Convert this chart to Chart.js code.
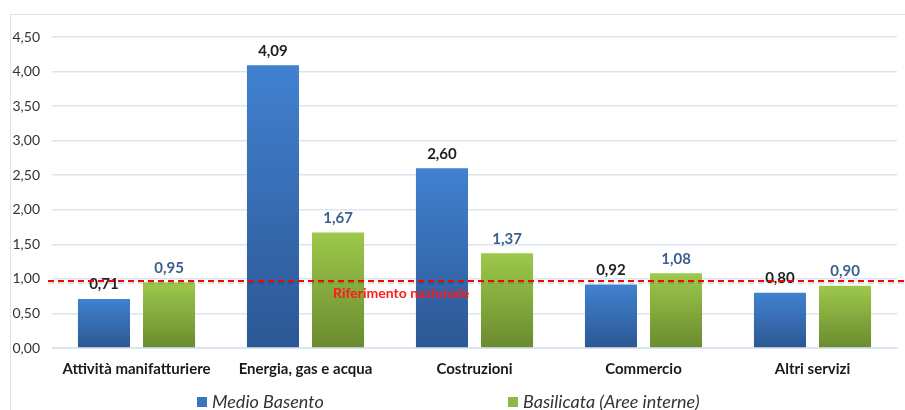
<!DOCTYPE html>
<html>
<head>
<meta charset="utf-8">
<script src="https://cdn.jsdelivr.net/npm/chart.js@4.4.1/dist/chart.umd.min.js"></script>
<style>
  html, body { margin: 0; padding: 0; background: #fff; }
  #wrap { position: relative; width: 905px; height: 410px; overflow: hidden; }
  #frame { position: absolute; left: 10px; top: 14px; right: 0; bottom: 0;
           border-left: 1px solid #dbe5f1; border-top: 1px solid #dbe5f1; }
  canvas { position: absolute; left: 0; top: 0; }
  .leg { position: absolute; top: 390px; font: italic 18px Lato, "Open Sans", sans-serif; color: #333; white-space: nowrap; }
  .leg i { display: inline-block; width: 10px; height: 10px; margin-right: 5px; vertical-align: 1px; }
</style>
</head>
<body>
<div id="wrap">
  <div id="frame"></div>
  <canvas id="c" width="905" height="410"></canvas>
  <div class="leg" id="leg0" style="left:197px"></div>
  <div class="leg" id="leg1" style="left:508px"></div>
</div>
<script>
// data
const categories = ['Attività manifatturiere', 'Energia, gas e acqua', 'Costruzioni', 'Commercio', 'Altri servizi'];
const medioBasento = [0.71, 4.09, 2.60, 0.92, 0.80];
const basilicata = [0.95, 1.67, 1.37, 1.08, 0.90];
const seriesNames = ['Medio Basento', 'Basilicata (Aree interne)'];
const refValue = 0.97;
const refLabel = 'Riferimento nazionale';

const FONT = 'Lato, "Open Sans", sans-serif';
const fmt = v => v.toFixed(2).replace('.', ',');

// vertical gradient inside each bar
function barGradient(top, bottom) {
  return (ctx) => {
    const chart = ctx.chart;
    const y = chart.scales && chart.scales.y;
    if (!y || ctx.raw === undefined) return top;
    const y0 = y.getPixelForValue(ctx.raw), y1 = y.getPixelForValue(0);
    if (!isFinite(y0) || !isFinite(y1) || y0 === y1) return top;
    const g = chart.ctx.createLinearGradient(0, y0, 0, y1);
    g.addColorStop(0, top);
    g.addColorStop(1, bottom);
    return g;
  };
}

// dashed reference line + value labels
const overlay = {
  id: 'overlay',
  afterDatasetsDraw(chart) {
    const { ctx, scales } = chart;
    const colors = ['#1f1f1f', '#3b5f8e'];
    chart.data.datasets.forEach((ds, di) => {
      chart.getDatasetMeta(di).data.forEach((bar, i) => {
        ctx.save();
        ctx.font = 'bold 15px ' + FONT;
        ctx.fillStyle = colors[di];
        ctx.textAlign = 'center';
        ctx.textBaseline = 'bottom';
        ctx.fillText(fmt(ds.data[i]), bar.x, bar.y - 7);
        ctx.restore();
      });
    });
    const y = scales.y.getPixelForValue(refValue);
    ctx.save();
    ctx.lineWidth = 2;
    ctx.setLineDash([6, 4]);
    ctx.strokeStyle = 'rgba(0,0,0,0.12)';
    ctx.beginPath();
    ctx.moveTo(48, y + 2);
    ctx.lineTo(905, y + 2);
    ctx.stroke();
    ctx.strokeStyle = '#ff0000';
    ctx.beginPath();
    ctx.moveTo(48, y);
    ctx.lineTo(905, y);
    ctx.stroke();
    ctx.setLineDash([]);
    ctx.font = 'bold 14px ' + FONT;
    ctx.fillStyle = '#ff1a1a';
    ctx.textAlign = 'left';
    ctx.textBaseline = 'middle';
    ctx.fillText(refLabel, 333, y + 13);
    ctx.restore();
  }
};

const legendFills = ['#3d76c0', '#8db843'];
seriesNames.forEach((n, i) => {
  const el = document.getElementById('leg' + i);
  el.innerHTML = '<i style="background:' + legendFills[i] + '"></i>';
  el.appendChild(document.createTextNode(n));
});

new Chart(document.getElementById('c'), {
  type: 'bar',
  data: {
    labels: categories,
    datasets: [{
      label: seriesNames[0],
      data: medioBasento,
      backgroundColor: barGradient('#4181d0', '#2c5793'),
      borderWidth: 0,
      categoryPercentage: 0.77,
      barPercentage: 0.8
    }, {
      label: seriesNames[1],
      data: basilicata,
      backgroundColor: barGradient('#9dc84b', '#6a8b2f'),
      borderWidth: 0,
      categoryPercentage: 0.77,
      barPercentage: 0.8
    }]
  },
  plugins: [overlay],
  options: {
    responsive: false,
    animation: false,
    layout: { padding: { top: 37, right: 8, left: 0, bottom: 28 } },
    plugins: {
      tooltip: { enabled: false },
      legend: { display: false }
    },
    scales: {
      x: {
        grid: { display: false },
        border: { color: '#dbe5f1' },
        ticks: { color: '#1a1a1a', font: { family: FONT, size: 15, weight: 'bold' }, padding: 4 }
      },
      y: {
        min: 0,
        max: 4.5,
        afterFit(s) { s.width = 52; },
        ticks: {
          stepSize: 0.5,
          color: '#333',
          font: { family: FONT, size: 14 },
          padding: 12,
          callback: v => fmt(v)
        },
        grid: { color: '#dbe5f1', lineWidth: 1.5, drawTicks: false },
        border: { display: false }
      }
    }
  }
});
</script>
</body>
</html>
